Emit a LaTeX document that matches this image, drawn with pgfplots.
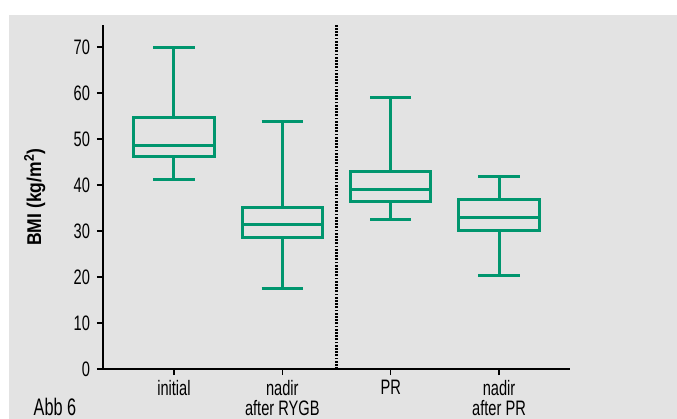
\documentclass[border=0pt]{standalone}
\usepackage{fontspec}
\setmainfont{Liberation Sans}[FakeStretch=0.70]
\newfontfamily\boldlab{Liberation Sans}[FakeStretch=0.88]
\newfontfamily\abbfont{Liberation Sans}[FakeStretch=0.68]
\usepackage{pgfplots}
\pgfplotsset{compat=1.18}
\definecolor{bggray}{RGB}{227,227,227}
\definecolor{boxgreen}{RGB}{0,150,110}
\begin{document}
\begin{tikzpicture}
\useasboundingbox (-51.5bp,-25bp) rectangle (287bp,184.5bp);
\fill[bggray] (-47bp,-25bp) rectangle (287bp,177bp);
\node[anchor=base west, font=\abbfont\fontsize{12}{13}\selectfont, inner sep=0pt] at (-34.85bp,-23.3bp) {Abb 6};
\begin{axis}[
  at={(0,0)}, anchor=south west, scale only axis,
  width=233.5bp, height=172bp,
  xmin=0.345, xmax=4.655, ymin=0, ymax=74.8,
  axis lines=left,
  axis line style={-, line width=0.75bp, black},
  tick align=outside,
  major tick length=3bp,
  tick style={black, line width=0.75bp},
  xtick={1,2,3,4},
  xticklabels={initial,{nadir\\after RYGB},PR,{nadir\\after PR}},
  xticklabel style={align=center, font=\fontsize{10.5}{10}\selectfont, inner sep=2.5pt},
  ytick={0,10,...,70},
  yticklabel style={font=\fontsize{10.5}{11}\selectfont},
  /pgf/number format/assume math mode=true,
  ylabel={\boldlab\bfseries BMI (kg/m\textsuperscript{2})},
  ylabel style={font=\fontsize{10}{12}\selectfont},
  every axis y label/.style={at={(axis description cs:-0.146,0.5)}, rotate=90, anchor=center},
  unbounded coords=jump,
  clip=false,
]
% box 1: initial (lw 41.2, q1 46.3, med 48.7, q3 54.6, uw 70.0)
\addplot[boxgreen, line width=1.5bp, mark=none, line join=miter] coordinates {
 (0.63,46.3) (1.37,46.3) (1.37,54.6) (0.63,54.6) (0.63,46.3) (1.37,46.3) (nan,nan)
 (0.63,48.7) (1.37,48.7) (nan,nan)
 (1,54.6) (1,70.0) (nan,nan) (0.81,70.0) (1.19,70.0) (nan,nan)
 (1,46.3) (1,41.2) (nan,nan) (0.81,41.2) (1.19,41.2)};
% box 2: nadir after RYGB (17.6, 28.5, 31.4, 35.2, 53.9)
\addplot[boxgreen, line width=1.5bp, mark=none, line join=miter] coordinates {
 (1.63,28.5) (2.37,28.5) (2.37,35.2) (1.63,35.2) (1.63,28.5) (2.37,28.5) (nan,nan)
 (1.63,31.4) (2.37,31.4) (nan,nan)
 (2,35.2) (2,53.9) (nan,nan) (1.81,53.9) (2.19,53.9) (nan,nan)
 (2,28.5) (2,17.6) (nan,nan) (1.81,17.6) (2.19,17.6)};
% box 3: PR (32.5, 36.4, 39.05, 42.9, 59.0)
\addplot[boxgreen, line width=1.5bp, mark=none, line join=miter] coordinates {
 (2.63,36.4) (3.37,36.4) (3.37,42.9) (2.63,42.9) (2.63,36.4) (3.37,36.4) (nan,nan)
 (2.63,39.05) (3.37,39.05) (nan,nan)
 (3,42.9) (3,59.0) (nan,nan) (2.81,59.0) (3.19,59.0) (nan,nan)
 (3,36.4) (3,32.5) (nan,nan) (2.81,32.5) (3.19,32.5)};
% box 4: nadir after PR (20.3, 30.2, 32.9, 36.9, 41.8)
\addplot[boxgreen, line width=1.5bp, mark=none, line join=miter] coordinates {
 (3.63,30.2) (4.37,30.2) (4.37,36.9) (3.63,36.9) (3.63,30.2) (4.37,30.2) (nan,nan)
 (3.63,32.9) (4.37,32.9) (nan,nan)
 (4,36.9) (4,41.8) (nan,nan) (3.81,41.8) (4.19,41.8) (nan,nan)
 (4,30.2) (4,20.3) (nan,nan) (3.81,20.3) (4.19,20.3)};
\addplot[black, line width=1.1bp, dash pattern=on 0.9bp off 0.7bp, mark=none] coordinates {(2.5,0) (2.5,74.8)};
\end{axis}
\end{tikzpicture}
\end{document}
